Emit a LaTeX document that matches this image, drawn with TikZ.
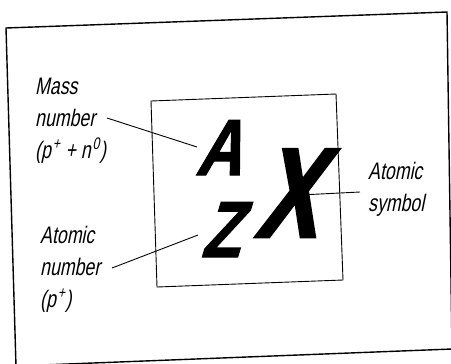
\documentclass[tikz,border=0pt]{standalone}
\usepackage{fontspec}
\newfontfamily\labelfont[FakeSlant=0.2,FakeStretch=0.74]{Liberation Sans}
\newfontfamily\bigfont[FakeSlant=0.3,FakeStretch=0.8,FakeBold=1.5]{Liberation Sans}
\newfontfamily\bigxfont[FakeSlant=0.3,FakeStretch=0.72,FakeBold=2]{Liberation Sans}
\newcommand\supscr[1]{\kern2pt\textsuperscript{#1}}
\tikzset{
  lbl/.style={inner sep=0pt, anchor=north west, align=left, font=\labelfont\fontsize{24}{32}\selectfont},
  bigletter/.style={inner sep=0pt, anchor=base},
  conn/.style={draw=black, line width=0.9pt},
}
\begin{document}
\begin{tikzpicture}[x=1bp,y=-1bp]
\useasboundingbox (0,0) rectangle (451,363);
\clip (0,0) rectangle (451,363);
% outer frame (slightly tilted scan)
\draw[line width=1.4pt] (6,28) -- (447,12) -- (452,349) -- (16,366) -- cycle;
% inner box
\draw[line width=0.9pt] (151,101) -- (336,94) -- (343,280) -- (157,287) -- cycle;
% big letters
\node[bigletter, font=\bigfont\bfseries\fontsize{80}{80}\selectfont] (A) at (218,175) {A};
\node[bigletter, font=\bigfont\bfseries\fontsize{80}{80}\selectfont] (Z) at (220,257) {Z};
\node[bigletter, font=\bigxfont\bfseries\fontsize{128}{128}\selectfont] (X) at (285,237) {X};
% labels
\node[lbl] (mass) at (35,78) {Mass\\number\\(p\supscr{+} + n\supscr{0})};
\node[lbl] (atnum) at (40,226) {Atomic\\number\\(p\supscr{+})};
\node[lbl] (atsym) at (368,162) {Atomic\\symbol};
% connector endpoints
\coordinate (m1) at (107,118);
\coordinate (m2) at (197,147);
\coordinate (n1) at (112,268);
\coordinate (n2) at (198,235);
\coordinate (s1) at (300,195);
\coordinate (s2) at (360,192);
\draw[conn] (m1) -- (m2);
\draw[conn] (n1) -- (n2);
\draw[conn] (s1) -- (s2);
\end{tikzpicture}
\end{document}
